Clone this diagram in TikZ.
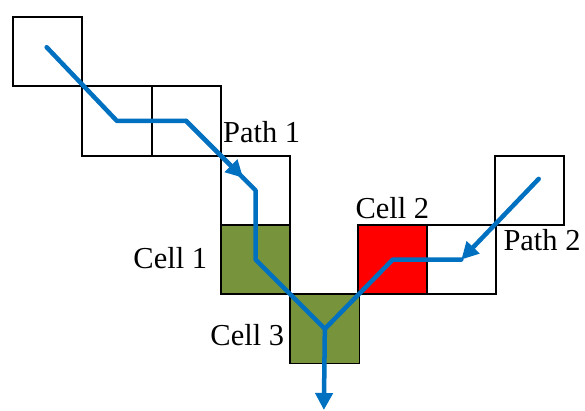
\documentclass[tikz,border=0pt]{standalone}
\usepackage{fontspec}
\setmainfont{Liberation Serif}
\usetikzlibrary{arrows.meta}
\definecolor{flowblue}{RGB}{0,112,192}
\definecolor{cellgreen}{RGB}{119,147,60}

\begin{document}
\begin{tikzpicture}[line cap=round,line join=round,>={Triangle[length=7pt,width=7pt]},
  every node/.style={inner sep=0pt},
  cell/.style={draw,line width=0.8pt,line join=miter,minimum size=1cm,anchor=north west},
  flow/.style={draw=flowblue,line width=1.85pt},
  lbl/.style={anchor=base west,font=\fontsize{12.5}{15}\selectfont}]
  \useasboundingbox (-0.173,0.231) rectangle (8.268,-5.685);
  % cells on the grid
  \node[cell] (a) at (0,0) {};
  \node[cell] (b) at (1,-1) {};
  \node[cell] (c) at (2,-1) {};
  \node[cell] (d) at (3,-2) {};
  \node[cell,fill=cellgreen] (cone) at (3,-3) {};
  \node[cell,fill=cellgreen] (cthree) at (4,-4) {};
  \node[cell,fill=red] (ctwo) at (4.98,-3) {};
  \node[cell] (e) at (5.97,-3) {};
  \node[cell] (f) at (6.95,-2) {};
  \coordinate (pstart) at (0.5,-0.45);
  \coordinate (qstart) at (7.6,-2.35);
  \coordinate (out) at (4.5,-5.685);
  % path 1
  \path (c.center) -- (d.center) coordinate[pos=0.82] (m);
  \draw[flow] (pstart) -- (b.center) -- (c.center) -- (m);
  \draw[flow,->] (c.center) -- (m);
  \draw[flow] (m) -- (d.center) -- (cone.center) -- (cthree.center);
  \draw[flow,->] (cthree.center) -- (out);
  % path 2
  \draw[flow,->] (qstart) -- (e.center);
  \draw[flow] (e.center) -- (ctwo.center) -- (cthree.center);
  % labels
  \node[lbl] at (3.04,-1.83) {Path 1};
  \node[lbl] at (4.95,-2.915) {Cell 2};
  \node[lbl] at (7.085,-3.377) {Path 2};
  \node[lbl] at (1.746,-3.65) {Cell 1};
  \node[lbl] at (2.857,-4.747) {Cell 3};
\end{tikzpicture}
\end{document}
